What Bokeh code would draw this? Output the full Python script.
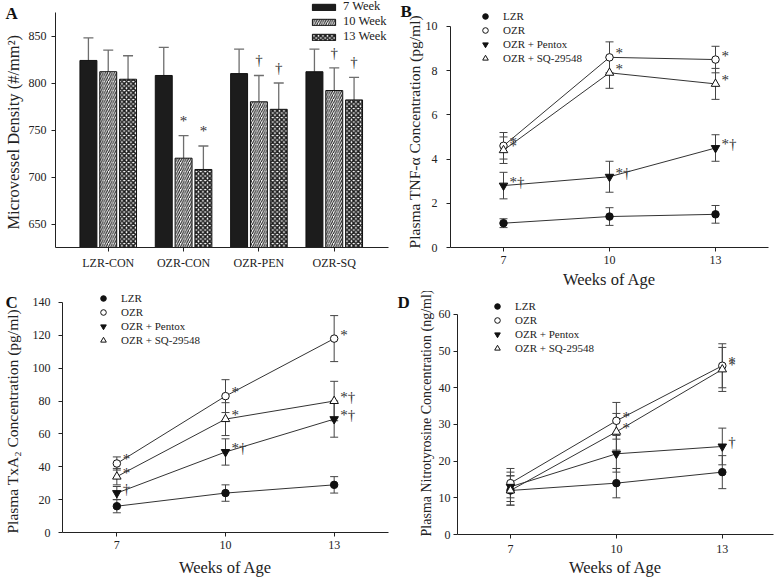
from bokeh.plotting import figure
from bokeh.models import (ColumnDataSource, Range1d, FixedTicker, Whisker, TeeHead,
                          Legend, LegendItem)
from bokeh.layouts import column, row
from bokeh.transform import dodge
from bokeh.core.properties import value
from bokeh.embed import file_html
from bokeh.resources import INLINE

FONT = "Liberation Serif"
TXT = "#222222"
EM = "\u2003"
EN = "\u2002"

# ---------------- Panel A data ----------------
groups = ["LZR-CON", "OZR-CON", "OZR-PEN", "OZR-SQ"]
week_labels = ["7 Week", "10 Week", "13 Week"]
md_7 = [824, 808, 810, 812]
md_7_err = [24, 30, 26, 24]
md_10 = [812, 720, 780, 792]
md_10_err = [23, 24, 28, 24]
md_13 = [804, 708, 772, 782]
md_13_err = [25, 25, 28, 24]
md_7_sig = ["", "", "", ""]
md_10_sig = ["", "*", "†", "†"]
md_13_sig = ["", "*", "†", "†"]
a_yticks = [650, 700, 750, 800, 850]

# ---------------- Panels B-D data ----------------
weeks = [7, 10, 13]
series_names = ["LZR", "OZR", "OZR + Pentox", "OZR + SQ-29548"]

tnf_lzr = [1.1, 1.4, 1.5];   tnf_lzr_err = [0.2, 0.4, 0.4]
tnf_ozr = [4.6, 8.6, 8.5];   tnf_ozr_err = [0.6, 0.7, 0.6]
tnf_pen = [2.8, 3.2, 4.5];   tnf_pen_err = [0.6, 0.7, 0.6]
tnf_sq = [4.4, 7.9, 7.4];    tnf_sq_err = [0.6, 0.7, 0.7]
tnf_sig = {"LZR": ["", "", ""], "OZR": ["*", "*", "*"],
           "OZR + Pentox": ["*†", "*†", "*†"], "OZR + SQ-29548": ["*", "*", "*"]}

txa_lzr = [16, 24, 29];      txa_lzr_err = [4, 5, 5]
txa_ozr = [42, 83, 118];     txa_ozr_err = [4, 10, 14]
txa_pen = [24, 49, 69];      txa_pen_err = [4, 8, 11]
txa_sq = [34, 69, 80];       txa_sq_err = [5, 10, 12]
txa_sig = {"LZR": ["", "", ""], "OZR": ["*", "*", "*"],
           "OZR + Pentox": ["†", "*†", "*†"], "OZR + SQ-29548": ["*", "*", "*†"]}

nt_lzr = [12, 14, 17];       nt_lzr_err = [4, 4, 4.5]
nt_ozr = [14, 31, 46];       nt_ozr_err = [4, 5, 6]
nt_pen = [13, 22, 24];       nt_pen_err = [4, 5, 5]
nt_sq = [12, 28, 45];        nt_sq_err = [4, 5, 6]
nt_sig = {"LZR": ["", "", ""], "OZR": ["", "*", "*"],
          "OZR + Pentox": ["", "", "†"], "OZR + SQ-29548": ["", "*", "*"]}


def make_fig(width, height, left, right, axis_top, bottom, xr, yr):
    """Frame reaches the top of the canvas; the y axis is bounded to yr so that
    the axis line starts axis_top pixels below the top."""
    frame_h = height - bottom
    ppu = (frame_h - axis_top) / (yr[1] - yr[0])
    y_end = yr[1] + axis_top / ppu
    p = figure(width=width, height=height, output_backend="svg", toolbar_location=None,
               x_range=Range1d(*xr), y_range=Range1d(yr[0], y_end), frame_align=False,
               min_border_left=left, min_border_right=right, min_border_top=0,
               min_border_bottom=bottom)
    p.yaxis[0].bounds = yr
    return p


def style_axes(p, tick_standoff, title_standoff, xtick_standoff, xtitle_standoff,
               ytitle_size="16px"):
    p.outline_line_color = None
    p.grid.visible = False
    p.background_fill_color = "white"
    p.border_fill_color = "white"
    for ax in (p.xaxis[0], p.yaxis[0]):
        ax.axis_line_color = TXT
        ax.major_tick_line_color = TXT
        ax.minor_tick_line_color = None
        ax.major_tick_out = 4
        ax.major_tick_in = 0
        ax.major_label_text_font = FONT
        ax.major_label_text_font_size = "12px"
        ax.major_label_text_color = TXT
        ax.axis_label_text_font = FONT
        ax.axis_label_text_font_size = "16.5px"
        ax.axis_label_text_font_style = "normal"
        ax.axis_label_text_color = TXT
    p.yaxis[0].axis_label_text_font_size = ytitle_size
    p.yaxis[0].major_label_standoff = tick_standoff
    p.yaxis[0].axis_label_standoff = title_standoff
    p.xaxis[0].major_label_standoff = xtick_standoff
    p.xaxis[0].axis_label_standoff = xtitle_standoff


def panel_letter(p, txt, offset, text_bottom):
    p.title.text = txt
    p.title.text_font = FONT
    p.title.text_font_size = "17px"
    p.title.text_font_style = "bold"
    p.title.text_color = "#111111"
    p.title.align = "left"
    p.title.vertical_align = "bottom"
    p.title.offset = offset
    p.title.standoff = -2 * text_bottom


ROW1_H, ROW2_H = 291, 288

# ---------------- Panel A ----------------
A_W = 389
A_L, A_R, A_TOP, A_B = 52, 1, 12, ROW1_H - 247
pA = make_fig(A_W, ROW1_H, A_L, A_R, A_TOP, A_B, (-0.7, 3.72), (625, 875))
style_axes(pA, 5, 3, 4, 4, ytitle_size="16.5px")
pA.xaxis[0].ticker = FixedTicker(ticks=list(range(len(groups))))
pA.xaxis[0].major_label_overrides = {i: g for i, g in enumerate(groups)}
pA.yaxis[0].ticker = FixedTicker(ticks=a_yticks)
pA.yaxis[0].axis_label = "Microvessel Density (#/mm²)" + EM

srcA = ColumnDataSource(dict(
    gi=list(range(len(groups))),
    w7=md_7, w7u=[v + e for v, e in zip(md_7, md_7_err)], s7=md_7_sig,
    w10=md_10, w10u=[v + e for v, e in zip(md_10, md_10_err)], s10=md_10_sig,
    w13=md_13, w13u=[v + e for v, e in zip(md_13, md_13_err)], s13=md_13_sig,
))
base = pA.y_range.start
bar_w = 0.225
offs = [-0.263, 0.0, 0.263]
styles = [dict(fill_color="#1c1c1c"),
          dict(fill_color="white", hatch_pattern="right_diagonal_line", hatch_color="#1c1c1c",
               hatch_scale=4.5, hatch_weight=1.1),
          dict(fill_color="white", hatch_pattern="diagonal_cross", hatch_color="#1c1c1c",
               hatch_scale=4.5, hatch_weight=1.6)]
cols = [("w7", "w7u", "s7"), ("w10", "w10u", "s10"), ("w13", "w13u", "s13")]
bar_items = []
for (c, cu, cs), off, st, lab in zip(cols, offs, styles, week_labels):
    xd = dodge("gi", off, range=pA.x_range)
    r = pA.vbar(x=xd, top=c, bottom=base, width=bar_w, source=srcA,
                line_color="#111111", line_width=1, **st)
    bar_items.append(LegendItem(label=lab, renderers=[r]))
    pA.add_layout(Whisker(source=srcA, base=xd, lower=c, upper=cu, dimension="height",
                          line_color="#6e6e6e", line_width=1.3,
                          upper_head=TeeHead(size=10, line_color="#6e6e6e", line_width=1.3),
                          lower_head=None))
    pA.text(x=xd, y=cu, text=cs, source=srcA, text_font=value(FONT),
            text_font_size="15px", text_align="center", text_baseline="middle",
            y_offset=-15, text_color="#333333")

A_FH = ROW1_H - A_B
legA = Legend(items=bar_items, location=(254, A_FH - 2 - 42), orientation="vertical",
              glyph_width=29, glyph_height=8, label_height=14, spacing=0, padding=0,
              margin=0, label_standoff=5, border_line_color=None, background_fill_alpha=0,
              label_text_font=FONT, label_text_font_size="12.5px", label_text_color=TXT)
pA.add_layout(legA)
panel_letter(pA, "A", 2 - A_L, 22)


# ---------------- line panels ----------------
def line_panel(width, height, borders, xr, yr, yticks, ylab, ylab_size, data, sigs, leg_xy,
               letter_xy, letter, standoffs):
    l, r_, t, b = borders
    p = make_fig(width, height, l, r_, t, b, xr, yr)
    style_axes(p, *standoffs, ytitle_size=ylab_size)
    p.xaxis[0].ticker = FixedTicker(ticks=weeks)
    p.yaxis[0].ticker = FixedTicker(ticks=yticks)
    p.xaxis[0].axis_label = "Weeks of Age"
    p.yaxis[0].axis_label = ylab
    marker_specs = [("circle", "#111111", "#111111", 7.5),
                    ("circle", "white", "#111111", 7.5),
                    ("inverted_triangle", "#111111", "#111111", 8.5),
                    ("triangle", "white", "#111111", 8.5)]
    items = []
    srcs = []
    for name, (vals, errs) in zip(series_names, data):
        s = ColumnDataSource(dict(x=weeks, y=vals,
                                  up=[v + e for v, e in zip(vals, errs)],
                                  lo=[v - e for v, e in zip(vals, errs)],
                                  sig=sigs[name]))
        srcs.append(s)
        p.line("x", "y", source=s, line_color="#333333", line_width=1)
    for s in srcs:
        p.add_layout(Whisker(source=s, base="x", lower="lo", upper="up", dimension="height",
                             line_color="#444444", line_width=1,
                             upper_head=TeeHead(size=8, line_color="#444444", line_width=1),
                             lower_head=TeeHead(size=8, line_color="#444444", line_width=1)))
    for name, s, (mk, fc, lc, sz) in zip(series_names, srcs, marker_specs):
        rr = p.scatter("x", "y", source=s, marker=mk, size=sz, fill_color=fc,
                       line_color=lc, line_width=1)
        items.append(LegendItem(label=name, renderers=[rr]))
        p.text("x", "y", text="sig", source=s, text_font=value(FONT), text_font_size="15px",
               text_align="left", text_baseline="middle", x_offset=6, y_offset=-4,
               text_color="#333333")
    fh = height - b
    lx, ltop = leg_xy
    leg = Legend(items=items, location=(lx - l, fh - ltop - 56), orientation="vertical",
                 glyph_width=20, glyph_height=14, label_height=14, spacing=0, padding=0,
                 margin=0, label_standoff=8, border_line_color=None, background_fill_alpha=0,
                 label_text_font=FONT, label_text_font_size="11px", label_text_color=TXT)
    p.add_layout(leg)
    panel_letter(p, letter, letter_xy[0] - l, letter_xy[1])
    return p


pB = line_panel(385, ROW1_H, (61, 6, 26, ROW1_H - 248), (5.5, 14.5), (0, 10),
                [0, 2, 4, 6, 8, 10],
                "Plasma TNF-α Concentration (pg/ml)" + EN * 2, "15.5px",
                [(tnf_lzr, tnf_lzr_err), (tnf_ozr, tnf_ozr_err),
                 (tnf_pen, tnf_pen_err), (tnf_sq, tnf_sq_err)],
                tnf_sig, (86, 10), (11, 20), "B", (9, 0, 4, 3))
pC = line_panel(389, ROW2_H, (59, 1, 11, ROW2_H - 242), (5.5, 14.5), (0, 140),
                [0, 20, 40, 60, 80, 100, 120, 140],
                "Plasma TxA₂ Concentration (pg/ml)" + EN * 2 + "\u2009", "15.5px",
                [(txa_lzr, txa_lzr_err), (txa_ozr, txa_ozr_err),
                 (txa_pen, txa_pen_err), (txa_sq, txa_sq_err)],
                txa_sig, (90, 1), (2, 20), "C", (8, 9, 4, 6))
pD = line_panel(385, ROW2_H, (68, 1, 23, ROW2_H - 244), (5.5, 14.45), (0, 60),
                [0, 10, 20, 30, 40, 50, 60],
                "Plasma Nitrotyrosine Concentration (ng/ml)", "14px",
                [(nt_lzr, nt_lzr_err), (nt_ozr, nt_ozr_err),
                 (nt_pen, nt_pen_err), (nt_sq, nt_sq_err)],
                nt_sig, (98, 9), (8, 20), "D", (3, 2, 6, 2))

layout = column(row(pA, pB, spacing=0), row(pC, pD, spacing=0), spacing=0)
open("out.html", "w").write(file_html(layout, INLINE))
